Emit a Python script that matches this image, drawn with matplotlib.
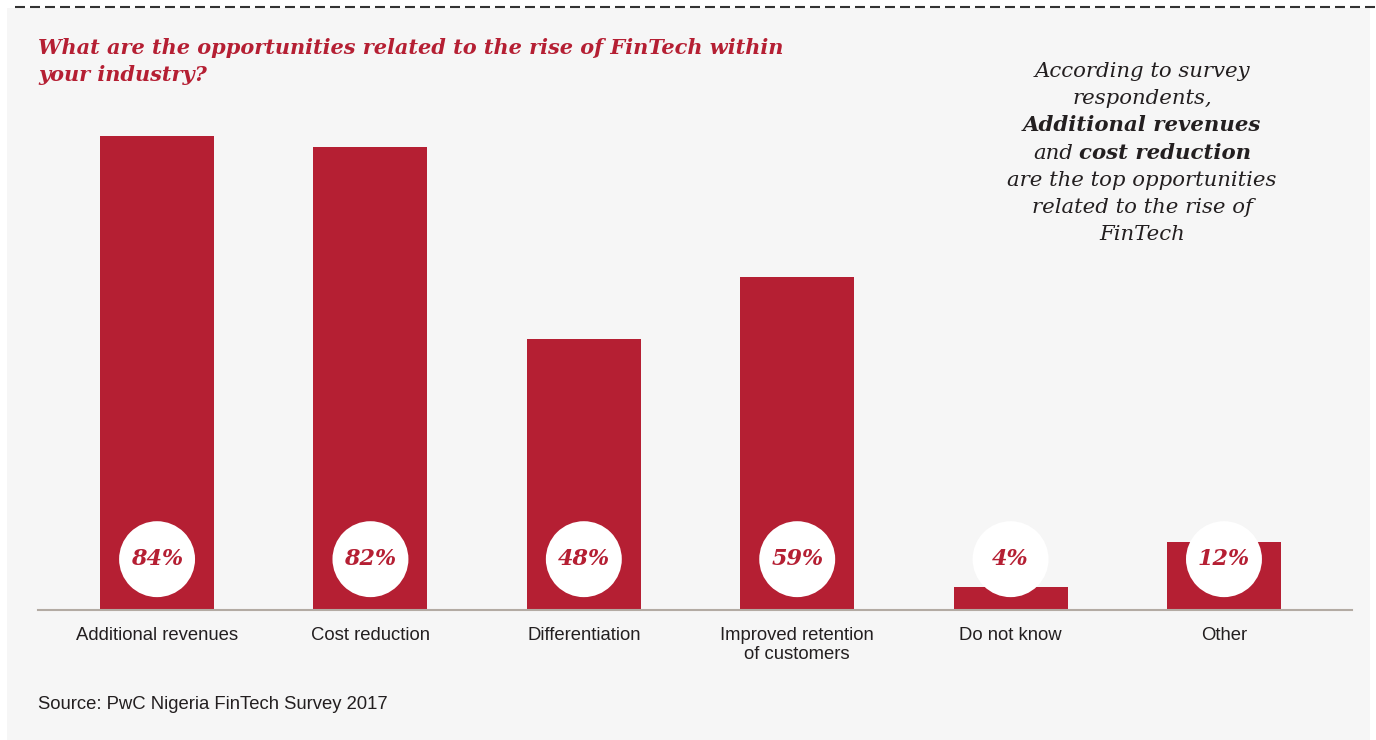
import matplotlib
matplotlib.use("Agg")
import matplotlib.pyplot as plt
from matplotlib.patches import Rectangle
from matplotlib.lines import Line2D

# survey results
categories = ["Additional revenues", "Cost reduction", "Differentiation",
              "Improved retention\nof customers", "Do not know", "Other"]
values = [84, 82, 48, 59, 4, 12]
value_labels = ["84%", "82%", "48%", "59%", "4%", "12%"]

title = "What are the opportunities related to the rise of FinTech within\nyour industry?"
source = "Source: PwC Nigeria FinTech Survey 2017"

RED = "#b51f33"
INK = "#231f20"
W, H = 1376, 740

plt.rcParams["lines.scale_dashes"] = False
fig = plt.figure(figsize=(W / 100, H / 100), dpi=100, facecolor="white")

# grey panel and dashed rule along the top
fig.patches.append(Rectangle((7 / W, 0), (1370 - 7) / W, (H - 8) / H,
                             transform=fig.transFigure, facecolor="#f6f6f6",
                             edgecolor="none", zorder=-5))
fig.lines.append(Line2D([15 / W, 1], [1 - 7 / H, 1 - 7 / H], transform=fig.transFigure,
                        color="#333333", lw=1.5, dashes=(7.2, 3.6), zorder=-4))

ax = fig.add_axes([38 / W, (H - 610) / H, (1352 - 38) / W, (610 - 100) / H])
ax.set_facecolor("none")
x = list(range(len(categories)))
ax.bar(x, values, width=0.534, color=RED, zorder=2)
ax.set_xlim(-0.558, 5.6)
ax.set_ylim(0, 90.3)

# white value discs near the baseline
disc_y = 9.0
ax.scatter(x, [disc_y] * len(x), s=2990, color="white", edgecolors="none",
           zorder=3, clip_on=False)
for xi, lab in zip(x, value_labels):
    ax.text(xi, disc_y, lab, ha="center", va="center", color=RED, zorder=4,
            family="DejaVu Serif", weight="bold", style="italic", fontsize=16)

for side in ["top", "left", "right"]:
    ax.spines[side].set_visible(False)
ax.spines["bottom"].set_color("#b3aba3")
ax.spines["bottom"].set_linewidth(1.5)
ax.set_yticks([])
ax.set_xticks(x)
ax.set_xticklabels(categories, family="Liberation Sans", fontsize=13.3, color=INK)
ax.tick_params(axis="x", length=0, pad=12)

fig.text(38 / W, 1 - 38 / H, title, ha="left", va="top", color=RED,
         family="DejaVu Serif", weight="bold", style="italic", fontsize=15,
         linespacing=1.45)
fig.text(38 / W, 1 - 709 / H, source, ha="left", va="baseline", color=INK,
         family="Liberation Sans", fontsize=13.3)

# side note, centred lines with mixed weights
note = [
    [("According to survey", "normal")],
    [("respondents,", "normal")],
    [("Additional revenues", "bold")],
    [("and", "normal"), ("cost reduction", "bold")],
    [("are the top opportunities", "normal")],
    [("related to the rise of", "normal")],
    [("FinTech", "normal")],
]
note_x = 1142
note_size = 15.3
renderer = fig.canvas.get_renderer()
for i, parts in enumerate(note):
    yb = 1 - (77 + 27.2 * i) / H
    texts = [fig.text(0, yb, s, ha="left", va="baseline", color=INK,
                      family="DejaVu Serif", style="italic", weight=wt,
                      fontsize=note_size) for s, wt in parts]
    widths = [t.get_window_extent(renderer).width for t in texts]
    gap = 0.3 * note_size * 100 / 72
    total = sum(widths) + gap * (len(texts) - 1)
    left = note_x - total / 2
    for t, w in zip(texts, widths):
        t.set_x(left / W)
        left += w + gap

fig.savefig("out.png", dpi=100, facecolor=fig.get_facecolor())
